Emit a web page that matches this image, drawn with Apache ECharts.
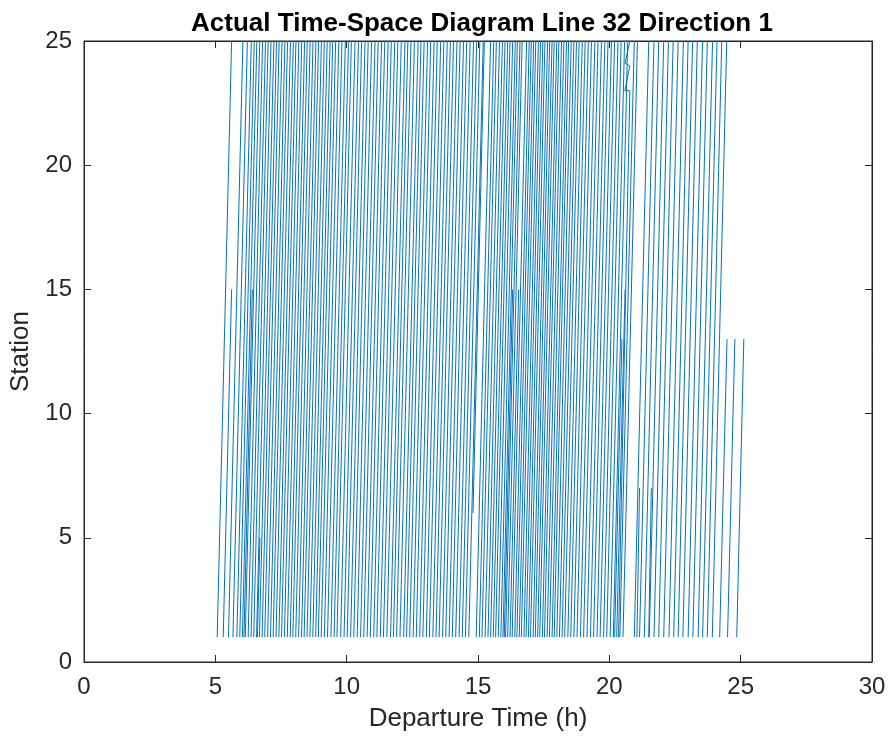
<!DOCTYPE html>
<html>
<head>
<meta charset="utf-8">
<script src="https://cdn.jsdelivr.net/npm/echarts@6/dist/echarts.min.js"></script>
<style>
  html, body { margin: 0; padding: 0; background: #fff; }
  #chart { width: 891px; height: 740px; }
</style>
</head>
<body>
<div id="chart"></div>
<script>
// departure times (h) at station 1 of the trips that run all the way to station 25
const tripStarts = [
  5.07, 5.5, 5.67, 5.82, 5.93, 6.03, 6.14, 6.25, 6.36, 6.46, 6.57, 6.68, 6.78, 6.88, 6.99,
  7.1, 7.2, 7.31, 7.42, 7.52, 7.63, 7.74, 7.85, 7.95, 8.06, 8.17, 8.28, 8.38, 8.49, 8.6,
  8.71, 8.82, 8.92,
  9.03, 9.15, 9.27, 9.4, 9.52, 9.63, 9.77, 9.9, 10.02, 10.15, 10.27, 10.4, 10.53, 10.65,
  10.78, 10.9, 11.03, 11.15, 11.28, 11.4, 11.53, 11.67, 11.78, 11.9, 12.03, 12.17, 12.28,
  12.4, 12.53, 12.65, 12.78, 12.9, 13.03, 13.15, 13.28, 13.4, 13.52, 13.65, 13.77, 13.9,
  14.02, 14.15, 14.28, 14.4, 14.52, 14.65,
  14.93, 15.05, 15.15, 15.27, 15.38, 15.48, 15.58, 15.67, 15.77, 15.87, 15.95, 16.05,
  16.13, 16.3, 16.4, 16.48, 16.57, 16.65, 16.75, 16.83, 16.92, 17.0, 17.1, 17.18, 17.27,
  17.35, 17.45, 17.53, 17.63, 17.72, 17.82, 17.9, 18.0, 18.1, 18.2, 18.3, 18.42, 18.53,
  18.65, 18.77, 18.9, 19.02, 19.15, 19.28, 19.4, 19.53, 19.65, 19.78, 19.9, 20.03, 20.15,
  20.4, 20.52,
  20.95, 21.15, 21.33, 21.52, 21.7, 21.88, 22.07, 22.27, 22.45, 22.62, 22.8, 23.0, 23.18,
  23.38, 23.55, 23.73, 23.92
];
// time (h) from station 1 to station 25
const fullRunHours = 0.55;

// trips that stop before station 25
const shortStarts   = [5.3, 6.09, 6.6, 16.0, 16.22, 20.2, 20.28, 21.05, 21.5, 24.2, 24.5, 24.85];
const shortEndStop  = [15, 15, 5, 15, 15, 13, 15, 7, 7, 13, 13, 13];
const shortEndTimes = [5.62, 6.41, 6.7, 16.32, 16.55, 20.48, 20.6, 21.15, 21.6, 24.48, 24.78, 25.12];

// trip whose record starts part way along the route
const lateJoinTimes    = [14.81, 15.24];
const lateJoinStations = [6, 25];

// one irregular trip near 20.5 h (zigzag at the top)
const oddTripTimes    = [20.35, 20.78, 20.59, 20.78, 20.6, 20.78, 20.6];
const oddTripStations = [1, 23, 23, 24.0, 24.1, 25, 25];

const axisFont = 'Helvetica, Arial, "Liberation Sans", sans-serif';
const xTicks = [0, 5, 10, 15, 20, 25, 30];
const yTicks = [0, 5, 10, 15, 20, 25];

const lineData = [];
tripStarts.forEach((t) => {
  lineData.push([t, 1], [t + fullRunHours, 25], '-');
});
shortStarts.forEach((t, i) => {
  lineData.push([t, 1], [shortEndTimes[i], shortEndStop[i]], '-');
});
lateJoinTimes.forEach((t, i) => {
  lineData.push([t, lateJoinStations[i]]);
});
lineData.push('-');
oddTripTimes.forEach((t, i) => {
  lineData.push([t, oddTripStations[i]]);
});

const chart = echarts.init(document.getElementById('chart'));
const tickStyle = { inside: true, length: 7, lineStyle: { color: '#262626', width: 1 } };
const option = {
  animation: false,
  title: {
    text: 'Actual Time-Space Diagram Line 32 Direction 1',
    left: 477,
    textAlign: 'center',
    top: 6,
    textStyle: { fontFamily: axisFont, fontWeight: 'bold', fontSize: 26, color: '#000' },
  },
  grid: {
    left: 84, right: 19, top: 41, bottom: 78,
    show: true, borderColor: '#262626', borderWidth: 1,
  },
  xAxis: [{
    type: 'value',
    min: 0, max: 30, interval: 5,
    name: 'Departure Time (h)',
    nameLocation: 'middle',
    nameGap: 44,
    nameTextStyle: { fontFamily: axisFont, fontSize: 26, color: '#262626' },
    axisLine: { show: true, onZero: false, lineStyle: { color: '#262626' } },
    axisTick: tickStyle,
    axisLabel: { fontFamily: axisFont, fontSize: 24, color: '#262626', margin: 13,
      formatter: (v) => (xTicks.includes(v) ? String(v) : '') },
    splitLine: { show: false },
  }, {
    type: 'value', position: 'top',
    min: 0, max: 30, interval: 5,
    axisLine: { show: true, onZero: false, lineStyle: { color: '#262626' } },
    axisTick: tickStyle,
    axisLabel: { show: false },
    splitLine: { show: false },
  }],
  yAxis: [{
    type: 'value',
    min: 0, max: 25, interval: 5,
    name: 'Station',
    nameLocation: 'middle',
    nameGap: 50,
    nameTextStyle: { fontFamily: axisFont, fontSize: 26, color: '#262626' },
    axisLine: { show: true, onZero: false, lineStyle: { color: '#262626' } },
    axisTick: tickStyle,
    axisLabel: { fontFamily: axisFont, fontSize: 24, color: '#262626', margin: 12,
      formatter: (v) => (yTicks.includes(v) ? String(v) : '') },
    splitLine: { show: false },
  }, {
    type: 'value', position: 'right',
    min: 0, max: 25, interval: 5,
    axisLine: { show: true, onZero: false, lineStyle: { color: '#262626' } },
    axisTick: tickStyle,
    axisLabel: { show: false },
    splitLine: { show: false },
  }],
  series: [{
    type: 'line',
    xAxisIndex: 0,
    yAxisIndex: 0,
    data: lineData,
    showSymbol: false,
    connectNulls: false,
    lineStyle: { color: '#0072BD', width: 1 },
    emphasis: { disabled: true },
  }],
};
chart.setOption(option);
</script>
</body>
</html>
